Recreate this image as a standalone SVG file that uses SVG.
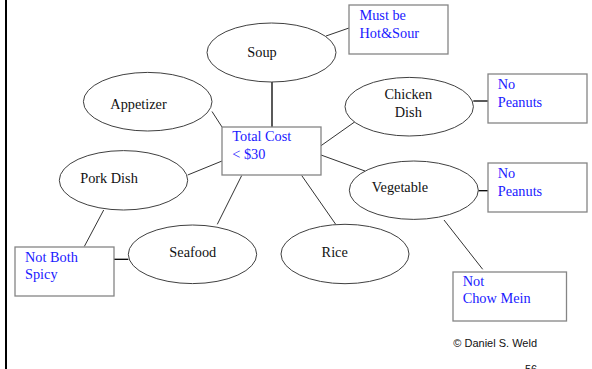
<svg xmlns="http://www.w3.org/2000/svg" width="592" height="369" viewBox="0 0 592 369">
<style>
.bg{fill:#fff}
.el{fill:#fff;stroke:#404040;stroke-width:1}
.bx{fill:#fff;stroke:#858585;stroke-width:1.3}
.ln{stroke:#333;stroke-width:1;fill:none}
.lnb{stroke:#000;stroke-width:1.3;fill:none}
.t{font-family:"Liberation Serif","Times New Roman",serif;font-size:14.3px;fill:#111}
.b{font-family:"Liberation Serif","Times New Roman",serif;font-size:14.3px;fill:#1a1aff}
.s{font-family:"Liberation Sans",Arial,sans-serif;font-size:11px;fill:#111}
</style>
<rect class="bg" x="0" y="0" width="592" height="369"/>
<rect x="5" y="0" width="2" height="369" fill="#000"/>
<g id="connectors">
<line class="ln" x1="326" y1="36" x2="349" y2="28"/>
<line class="lnb" x1="272" y1="82" x2="272" y2="127"/>
<line class="ln" x1="212" y1="111.5" x2="222" y2="127"/>
<line class="ln" x1="187.7" y1="175" x2="222" y2="161"/>
<line class="ln" x1="103.7" y1="210" x2="84.3" y2="246.5"/>
<line class="lnb" x1="114" y1="259.3" x2="128.3" y2="259.3"/>
<line class="ln" x1="241.7" y1="175.5" x2="217.3" y2="224.3"/>
<line class="ln" x1="301.7" y1="175.5" x2="335.7" y2="224.3"/>
<line class="ln" x1="321" y1="145.7" x2="355" y2="121.7"/>
<line class="lnb" x1="473.3" y1="101" x2="488" y2="101"/>
<line class="ln" x1="321" y1="155" x2="365" y2="171"/>
<line class="lnb" x1="478.3" y1="190.7" x2="488" y2="190.7"/>
<line class="ln" x1="444" y1="220" x2="482.7" y2="269.3"/>
</g>
<g id="soup">
<ellipse class="el" cx="271.5" cy="52.5" rx="64.5" ry="29.5"/>
<text class="t" x="262" y="56.5" text-anchor="middle">Soup</text>
</g>
<g id="must-be">
<rect class="bx" x="349" y="5" width="99" height="49"/>
<text class="b" x="359.5" y="19.5">Must be</text>
<text class="b" x="359.5" y="37.7">Hot&amp;Sour</text>
</g>
<g id="appetizer">
<ellipse class="el" cx="147.7" cy="101.7" rx="64.3" ry="29.3"/>
<text class="t" x="138.5" y="109" text-anchor="middle">Appetizer</text>
</g>
<g id="total-cost">
<rect class="bx" x="222" y="127" width="99" height="48"/>
<text class="b" x="232.3" y="140.7">Total Cost</text>
<text class="b" x="232.3" y="158.7">&lt; $30</text>
</g>
<g id="pork-dish">
<ellipse class="el" cx="123.5" cy="180.3" rx="64.2" ry="29.7"/>
<text class="t" x="109" y="182.7" text-anchor="middle">Pork Dish</text>
</g>
<g id="not-both-spicy">
<rect class="bx" x="15" y="247" width="99" height="49"/>
<text class="b" x="25" y="261.7">Not Both</text>
<text class="b" x="25" y="279.3">Spicy</text>
</g>
<g id="seafood">
<ellipse class="el" cx="192.5" cy="254.3" rx="64.2" ry="29.3"/>
<text class="t" x="192.8" y="256.7" text-anchor="middle">Seafood</text>
</g>
<g id="rice">
<ellipse class="el" cx="345" cy="254" rx="64" ry="29.7"/>
<text class="t" x="334.7" y="256.7" text-anchor="middle">Rice</text>
</g>
<g id="chicken-dish">
<ellipse class="el" cx="409.2" cy="106.7" rx="64.2" ry="29.3"/>
<text class="t" x="408.3" y="99" text-anchor="middle">Chicken</text>
<text class="t" x="408.3" y="116.7" text-anchor="middle">Dish</text>
</g>
<g id="no-peanuts-1">
<rect class="bx" x="488" y="74" width="99" height="49"/>
<text class="b" x="497.7" y="89">No</text>
<text class="b" x="497.7" y="107">Peanuts</text>
</g>
<g id="vegetable">
<ellipse class="el" cx="413.8" cy="190.2" rx="64.5" ry="29.2"/>
<text class="t" x="400" y="192.3" text-anchor="middle">Vegetable</text>
</g>
<g id="no-peanuts-2">
<rect class="bx" x="488" y="163" width="99" height="49"/>
<text class="b" x="497.7" y="178.3">No</text>
<text class="b" x="497.7" y="195.7">Peanuts</text>
</g>
<g id="not-chow-mein">
<rect class="bx" x="453" y="272" width="113.5" height="49"/>
<text class="b" x="462.7" y="285.7">Not</text>
<text class="b" x="462.7" y="303.3">Chow Mein</text>
</g>
<g id="footer">
<text class="s" x="453.3" y="346.7">© Daniel S. Weld</text>
<text class="s" x="525" y="373">56</text>
</g>
</svg>
